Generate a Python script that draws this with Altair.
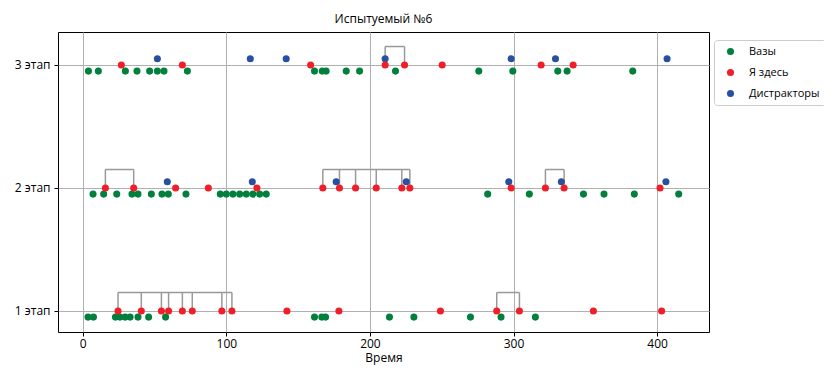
import altair as alt
import pandas as pd

stages = [1, 2, 3]
stage_labels = ["1 этап", "2 этап", "3 этап"]
categories = ["Вазы", "Я здесь", "Дистракторы"]
colors = ["#00803c", "#f01e28", "#2850a0"]

# stage 3
s3_green = [4.0, 10.9, 29.7, 37.8, 46.6, 52.0, 56.6, 72.9, 161.4, 166.8, 169.5, 183.5, 192.8, 217.8, 275.8, 299.5, 330.8, 337.3, 383.0]
s3_red = [26.9, 69.4, 158.7, 210.6, 224.1, 250.3, 319.2, 341.5]
s3_blue = [52.0, 116.7, 141.7, 210.6, 298.3, 329.2, 406.9]
s3_groups = [[210.6, 224.1]]

# stage 2
s2_green = [7.2, 14.6, 23.7, 34.3, 38.5, 47.8, 55.2, 59.6, 71.9, 95.8, 100.0, 104.6, 109.3, 113.9, 118.5, 123.2, 127.8, 282.0, 311.0, 348.7, 363.0, 384.1, 415.0]
s2_red = [15.8, 35.5, 64.7, 87.5, 121.3, 167.2, 178.8, 190.0, 204.4, 222.2, 227.8, 298.3, 322.2, 335.2, 402.0]
s2_blue = [58.9, 118.1, 176.5, 225.3, 296.7, 333.3, 406.1]
s2_groups = [[15.8, 35.5], [167.2, 178.8, 190.0, 204.4, 222.2, 227.8], [322.2, 335.2]]

# stage 1
s1_green = [3.7, 7.5, 22.8, 25.9, 29.5, 33.0, 38.5, 45.9, 57.7, 161.4, 166.5, 169.1, 213.6, 230.6, 270.0, 291.3, 315.2]
s1_red = [24.6, 40.8, 54.8, 59.8, 69.4, 76.3, 96.9, 103.9, 142.2, 178.4, 249.1, 288.3, 304.1, 355.6, 403.1]
s1_blue = []
s1_groups = [[24.6, 40.8, 54.8, 59.8, 69.4, 76.3, 96.9, 103.9], [288.3, 304.1]]

stage_data = {
    1: (s1_green, s1_red, s1_blue, s1_groups),
    2: (s2_green, s2_red, s2_blue, s2_groups),
    3: (s3_green, s3_red, s3_blue, s3_groups),
}

offsets = {"Вазы": -0.05, "Я здесь": 0.0, "Дистракторы": 0.05}
rows = []
for cat_idx in [0, 2, 1]:  # draw order: green, blue, red
    cat = categories[cat_idx]
    for st in stages:
        vals = stage_data[st][cat_idx]
        for v in vals:
            rows.append({"t": v, "y": st + offsets[cat], "cat": cat})
points_df = pd.DataFrame(rows)

h_rows, v_rows = [], []
for st in stages:
    for grp in stage_data[st][3]:
        h_rows.append({"t": min(grp), "t2": max(grp), "y": st + 0.15})
        for v in grp:
            v_rows.append({"t": v, "y": st, "y2": st + 0.15})
h_df = pd.DataFrame(h_rows)
v_df = pd.DataFrame(v_rows)

xscale = alt.Scale(domain=[-17.2, 436.1], nice=False, zero=False)
yscale = alt.Scale(domain=[0.829, 3.268], nice=False, zero=False)

xaxis = alt.Axis(values=[0, 100, 200, 300, 400], title="Время", grid=True)
yaxis = alt.Axis(values=[1, 2, 3], title=None, grid=True,
                 labelExpr="datum.value == 1 ? '1 этап' : datum.value == 2 ? '2 этап' : '3 этап'")

br_color = "#999999"
hbr = alt.Chart(h_df).mark_rule(color=br_color, strokeWidth=1.5).encode(
    x=alt.X("t:Q", scale=xscale, axis=xaxis),
    x2="t2:Q",
    y=alt.Y("y:Q", scale=yscale, axis=yaxis),
)
vbr = alt.Chart(v_df).mark_rule(color=br_color, strokeWidth=1.5).encode(
    x=alt.X("t:Q", scale=xscale),
    y=alt.Y("y:Q", scale=yscale),
    y2="y2:Q",
)
pts = alt.Chart(points_df).mark_circle(size=50, opacity=1).encode(
    x=alt.X("t:Q", scale=xscale),
    y=alt.Y("y:Q", scale=yscale),
    color=alt.Color("cat:N", scale=alt.Scale(domain=categories, range=colors),
                    legend=alt.Legend(title=None, orient="none", legendX=656, legendY=8,
                                      strokeColor="#cccccc", fillColor="white", cornerRadius=3,
                                      padding=6, symbolOffset=5, symbolType="circle",
                                      symbolSize=50, labelFontSize=11, labelOffset=13,
                                      rowPadding=9, labelFont="Open Sans", labelColor="#000")),
)

chart = alt.layer(hbr, vbr, pts).properties(
    width=651, height=300,
    title=alt.TitleParams("Испытуемый №6", fontSize=12, fontWeight="normal", font="Open Sans",
                          color="#000", offset=6, anchor="middle"),
    autosize=alt.AutoSizeParams(type="none"),
    padding={"left": 50, "top": 24, "right": 115, "bottom": 34},
).configure_view(
    stroke="#000", strokeWidth=1
).configure_axis(
    domain=False, gridColor="#b0b0b0", gridWidth=1, tickColor="#000", tickSize=4,
    labelFont="Open Sans", labelFontSize=12, labelColor="#000", labelPadding=4,
    titleFont="Open Sans", titleFontSize=12, titleFontWeight="normal", titleColor="#000",
).configure_axisX(labelPadding=2, titlePadding=3)

chart.save("out.html", embed_options={"renderer": "svg", "actions": False})
